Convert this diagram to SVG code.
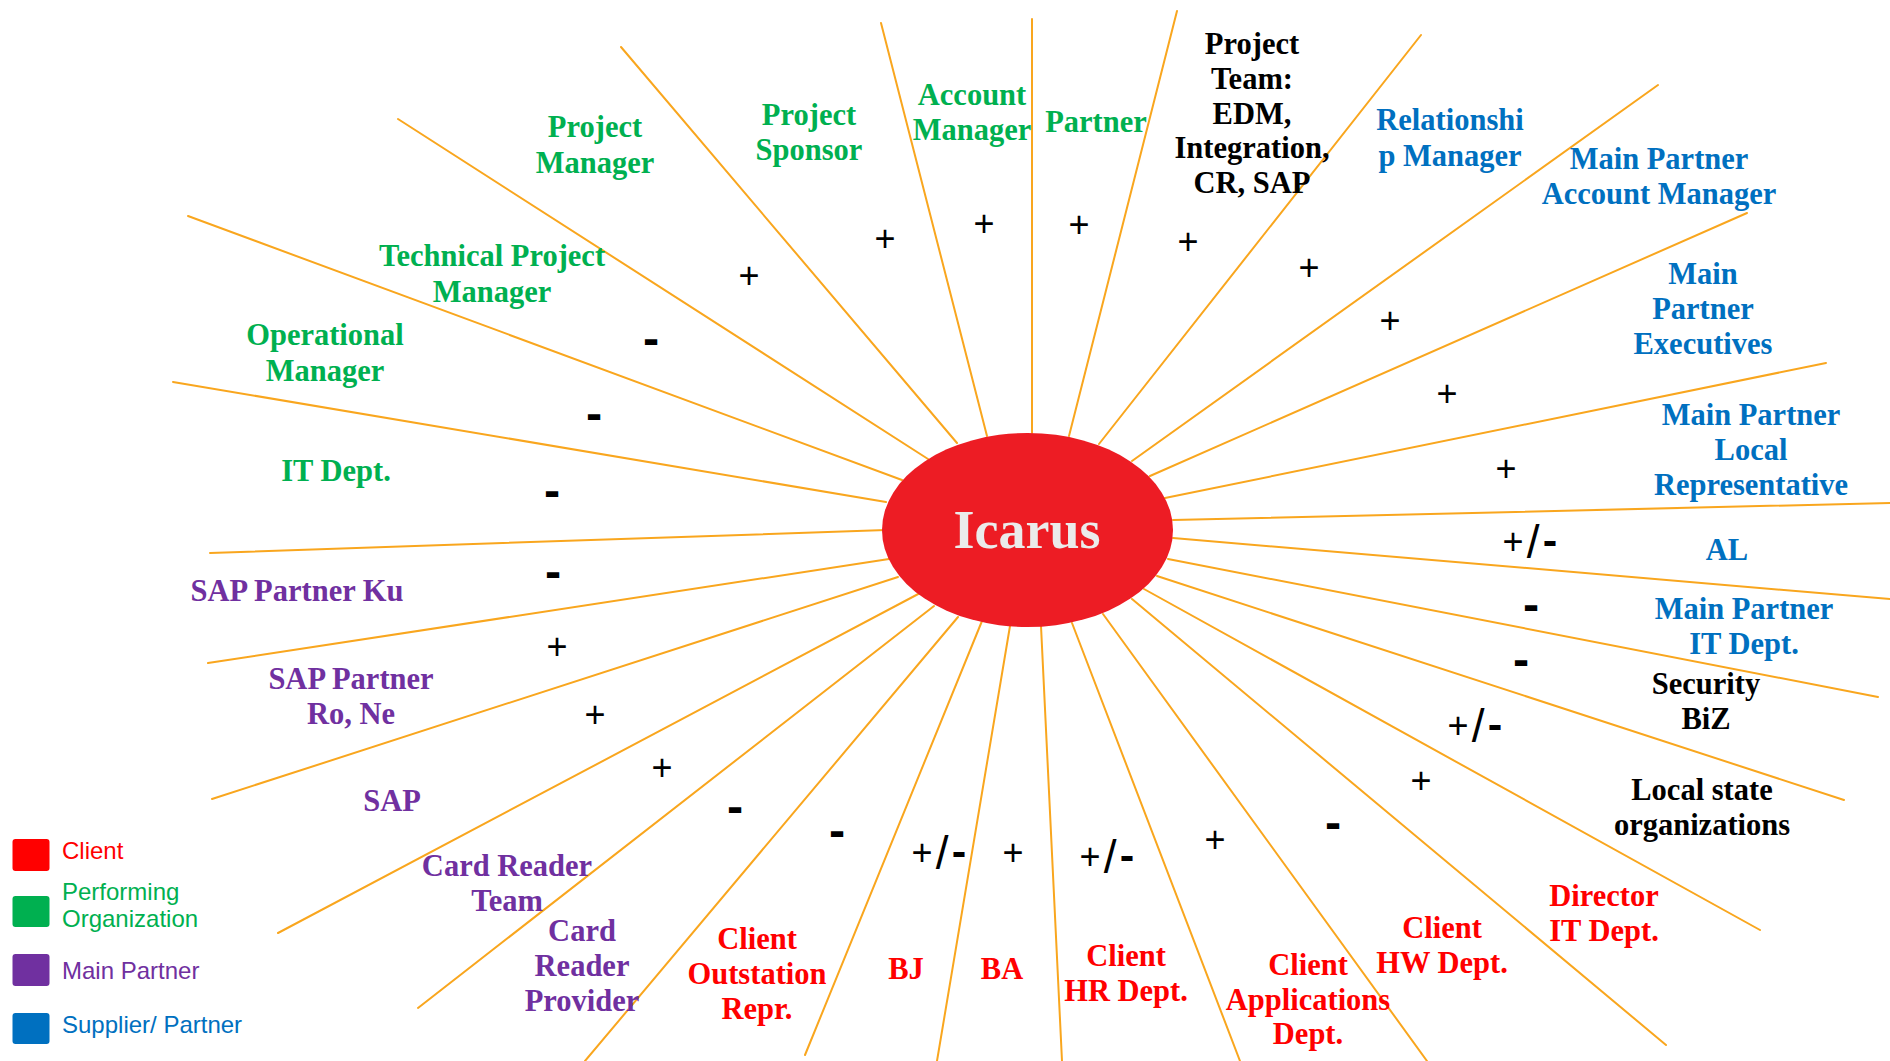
<svg xmlns="http://www.w3.org/2000/svg" width="1890" height="1061" viewBox="0 0 1890 1061">
<style>
.c line{stroke:#F9A61E;stroke-width:2;stroke-linecap:round}
.n{font-family:"Liberation Serif","Times New Roman",serif;font-weight:bold;font-size:30.5px;text-anchor:middle}
.g{fill:#00B050}.b{fill:#0070C0}.p{fill:#7030A0}.r{fill:#FF0000}.k{fill:#000}
.s{font-family:"Liberation Sans",Arial,sans-serif;font-size:36px;text-anchor:middle;fill:#000}
.m{font-family:"DejaVu Sans","Liberation Sans",sans-serif;font-weight:bold;font-size:40px;text-anchor:middle;fill:#000}
.sl{font-size:46px}
.hb{font-family:"DejaVu Sans",sans-serif;font-weight:bold}
.lg{font-family:"Liberation Sans",Arial,sans-serif;font-size:24px}
</style>
<rect width="1890" height="1061" fill="#fff"/>
<g id="connectors" class="c">
<line x1="173" y1="382" x2="886" y2="502"/>
<line x1="188" y1="216" x2="902" y2="480"/>
<line x1="398" y1="119" x2="928" y2="459"/>
<line x1="621" y1="47" x2="957" y2="443"/>
<line x1="881" y1="23" x2="987" y2="436"/>
<line x1="1032" y1="19" x2="1032" y2="433"/>
<line x1="1177" y1="11" x2="1069" y2="436"/>
<line x1="1421" y1="35" x2="1099" y2="444"/>
<line x1="1658" y1="85" x2="1132" y2="461"/>
<line x1="1747" y1="213" x2="1150" y2="476"/>
<line x1="1826" y1="363" x2="1165" y2="498"/>
<line x1="1890" y1="503" x2="1173" y2="520"/>
<line x1="1890" y1="599" x2="1173" y2="538"/>
<line x1="1878" y1="697" x2="1168" y2="559"/>
<line x1="1844" y1="800" x2="1157" y2="576"/>
<line x1="1760" y1="930" x2="1144" y2="589"/>
<line x1="1666" y1="1045" x2="1132" y2="599"/>
<line x1="1427" y1="1061" x2="1103" y2="614"/>
<line x1="1240" y1="1061" x2="1072" y2="623"/>
<line x1="1062" y1="1061" x2="1041" y2="626"/>
<line x1="937" y1="1061" x2="1010" y2="626"/>
<line x1="805" y1="1055" x2="982" y2="621"/>
<line x1="585" y1="1061" x2="958" y2="617"/>
<line x1="418" y1="1008" x2="934" y2="606"/>
<line x1="278" y1="933" x2="922" y2="592"/>
<line x1="212" y1="799" x2="898" y2="577"/>
<line x1="208" y1="663" x2="889" y2="559"/>
<line x1="210" y1="553" x2="886" y2="530"/>
</g>
<g id="icarus">
<ellipse cx="1027.5" cy="530" rx="145.5" ry="97" fill="#ED1C24"/>
<text x="1027" y="548" font-family="'Liberation Serif','Times New Roman',serif" font-weight="bold" font-size="54" fill="#EBEBEB" text-anchor="middle">Icarus</text>
</g>
<g id="project-manager"><text class="n g" x="595" y="137">Project</text><text class="n g" x="595" y="173">Manager</text></g>
<g id="project-sponsor"><text class="n g" x="809" y="125">Project</text><text class="n g" x="809" y="160">Sponsor</text></g>
<g id="account-manager"><text class="n g" x="972" y="105">Account</text><text class="n g" x="972" y="140">Manager</text></g>
<g id="partner"><text class="n g" x="1096" y="132">Partner</text></g>
<g id="project-team"><text class="n k" x="1252" y="54">Project</text><text class="n k" x="1252" y="89">Team:</text><text class="n k" x="1252" y="124">EDM,</text><text class="n k" x="1252" y="158">Integration,</text><text class="n k" x="1252" y="193">CR, SAP</text></g>
<g id="relationship-manager"><text class="n b" x="1450" y="130">Relationshi</text><text class="n b" x="1450" y="166">p Manager</text></g>
<g id="mp-account-manager"><text class="n b" x="1659" y="169">Main Partner</text><text class="n b" x="1659" y="204">Account Manager</text></g>
<g id="mp-executives"><text class="n b" x="1703" y="284">Main</text><text class="n b" x="1703" y="319">Partner</text><text class="n b" x="1703" y="354">Executives</text></g>
<g id="mp-local-rep"><text class="n b" x="1751" y="425">Main Partner</text><text class="n b" x="1751" y="460">Local</text><text class="n b" x="1751" y="495">Representative</text></g>
<g id="al"><text class="n b" x="1727" y="560">AL</text></g>
<g id="mp-it-dept"><text class="n b" x="1744" y="619">Main Partner</text><text class="n b" x="1744" y="654">IT Dept.</text></g>
<g id="security-biz"><text class="n k" x="1706" y="694">Security</text><text class="n k" x="1706" y="729">BiZ</text></g>
<g id="local-state"><text class="n k" x="1702" y="800">Local state</text><text class="n k" x="1702" y="835">organizations</text></g>
<g id="director-it"><text class="n r" x="1604" y="906">Director</text><text class="n r" x="1604" y="941">IT Dept.</text></g>
<g id="client-hw"><text class="n r" x="1442" y="938">Client</text><text class="n r" x="1442" y="973">HW Dept.</text></g>
<g id="client-apps"><text class="n r" x="1308" y="975">Client</text><text class="n r" x="1308" y="1010">Applications</text><text class="n r" x="1308" y="1044">Dept.</text></g>
<g id="client-hr"><text class="n r" x="1126" y="966">Client</text><text class="n r" x="1126" y="1001">HR Dept.</text></g>
<g id="ba"><text class="n r" x="1002" y="979">BA</text></g>
<g id="bj"><text class="n r" x="906" y="979">BJ</text></g>
<g id="client-outstation"><text class="n r" x="757" y="949">Client</text><text class="n r" x="757" y="984">Outstation</text><text class="n r" x="757" y="1019">Repr.</text></g>
<g id="card-reader-provider"><text class="n p" x="582" y="941">Card</text><text class="n p" x="582" y="976">Reader</text><text class="n p" x="582" y="1011">Provider</text></g>
<g id="card-reader-team"><text class="n p" x="507" y="876">Card Reader</text><text class="n p" x="507" y="911">Team</text></g>
<g id="sap"><text class="n p" x="392" y="811">SAP</text></g>
<g id="sap-partner-ro-ne"><text class="n p" x="351" y="689">SAP Partner</text><text class="n p" x="351" y="724">Ro, Ne</text></g>
<g id="sap-partner-ku"><text class="n p" x="297" y="601">SAP Partner Ku</text></g>
<g id="it-dept"><text class="n g" x="336" y="481">IT Dept.</text></g>
<g id="operational-manager"><text class="n g" x="325" y="345">Operational</text><text class="n g" x="325" y="381">Manager</text></g>
<g id="technical-pm"><text class="n g" x="492" y="266">Technical Project</text><text class="n g" x="492" y="302">Manager</text></g>
<g id="signs">
<text class="s" x="749" y="288">+</text>
<text class="s" x="885" y="251">+</text>
<text class="s" x="984" y="236">+</text>
<text class="s" x="1079" y="237">+</text>
<text class="s" x="1188" y="254">+</text>
<text class="s" x="1309" y="280">+</text>
<text class="s" x="1390" y="333">+</text>
<text class="s" x="1447" y="406">+</text>
<text class="s" x="1506" y="481">+</text>
<text class="s" x="1530" y="554">+<tspan class="sl" dx="3" dy="4">/</tspan><tspan class="hb" dx="3" dy="-4">-</tspan></text>
<text class="m" x="1531" y="620">-</text>
<text class="m" x="1521" y="675">-</text>
<text class="s" x="1475" y="738">+<tspan class="sl" dx="3" dy="4">/</tspan><tspan class="hb" dx="3" dy="-4">-</tspan></text>
<text class="s" x="1421" y="793">+</text>
<text class="m" x="1333" y="838">-</text>
<text class="s" x="1215" y="852">+</text>
<text class="s" x="1107" y="869">+<tspan class="sl" dx="3" dy="4">/</tspan><tspan class="hb" dx="3" dy="-4">-</tspan></text>
<text class="s" x="1013" y="865">+</text>
<text class="s" x="939" y="865">+<tspan class="sl" dx="3" dy="4">/</tspan><tspan class="hb" dx="3" dy="-4">-</tspan></text>
<text class="m" x="837" y="846">-</text>
<text class="m" x="735" y="822">-</text>
<text class="s" x="662" y="780">+</text>
<text class="s" x="595" y="727">+</text>
<text class="s" x="557" y="659">+</text>
<text class="m" x="553" y="587">-</text>
<text class="m" x="552" y="506">-</text>
<text class="m" x="594" y="429">-</text>
<text class="m" x="651" y="354">-</text>
</g>
<g id="legend">
<rect x="12.5" y="839" width="37" height="32" rx="3" fill="#FF0000"/>
<text class="lg" x="62" y="859" fill="#FF0000">Client</text>
<rect x="12.5" y="896" width="37" height="31" rx="3" fill="#00B050"/>
<text class="lg" x="62" y="900" fill="#00B050">Performing</text>
<text class="lg" x="62" y="927" fill="#00B050">Organization</text>
<rect x="12.5" y="954" width="37" height="32" rx="3" fill="#7030A0"/>
<text class="lg" x="62" y="979" fill="#7030A0">Main Partner</text>
<rect x="12.5" y="1013" width="37" height="31" rx="3" fill="#0070C0"/>
<text class="lg" x="62" y="1033" fill="#0070C0">Supplier/ Partner</text>
</g>
</svg>
